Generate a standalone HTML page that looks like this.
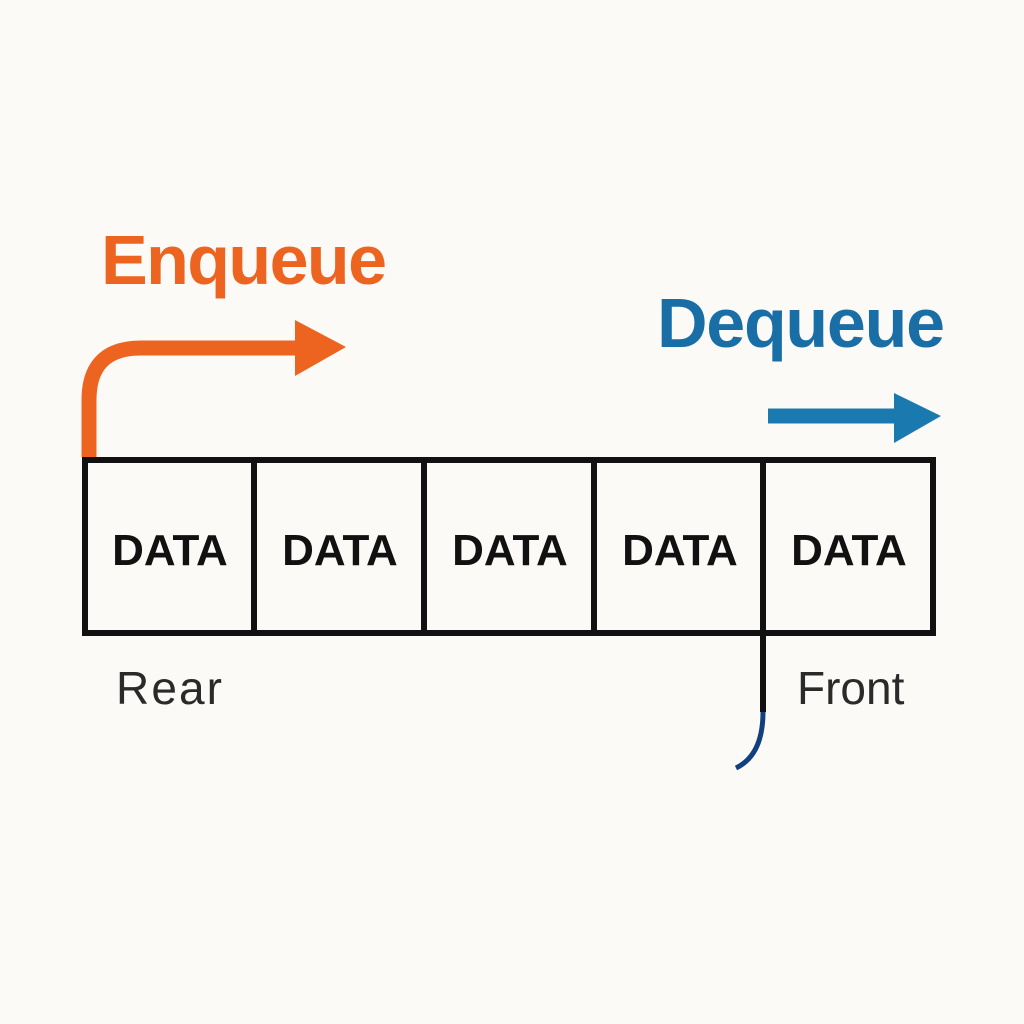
<!DOCTYPE html>
<html><head><style>
body{margin:0;background:#fbfaf7;}
svg{display:block}
</style></head><body>
<svg width="1024" height="1024" viewBox="0 0 1024 1024" xmlns="http://www.w3.org/2000/svg">
<rect width="1024" height="1024" fill="#fbfaf7"/>
<text x="101" y="284" font-family="Liberation Sans, sans-serif" font-size="70" font-weight="bold" fill="#ec6420" textLength="286">Enqueue</text>
<text x="657" y="347" font-family="Liberation Sans, sans-serif" font-size="70" font-weight="bold" fill="#1a6ea6" textLength="288">Dequeue</text>
<path d="M89 457 V400 Q89 348 141 348 H300" fill="none" stroke="#ec6420" stroke-width="15"/>
<polygon points="295,320 346,347 295,376" fill="#ec6420"/>
<line x1="768" y1="416" x2="900" y2="416" stroke="#1a7ab0" stroke-width="15"/>
<polygon points="894,393 941,416 894,443" fill="#1a7ab0"/>
<rect x="85" y="460" width="848" height="173" fill="none" stroke="#111" stroke-width="6"/>
<g stroke="#111" stroke-width="6">
<line x1="254" y1="460" x2="254" y2="633"/>
<line x1="424" y1="460" x2="424" y2="633"/>
<line x1="594" y1="460" x2="594" y2="633"/>
<line x1="763" y1="460" x2="763" y2="712"/>
</g>
<path d="M763 712 Q763 755 736 768" fill="none" stroke="#123f7e" stroke-width="5"/>
<g font-family="Liberation Sans, sans-serif" font-size="44" font-weight="bold" fill="#111" text-anchor="middle">
<text x="170" y="565">DATA</text>
<text x="340" y="565">DATA</text>
<text x="510" y="565">DATA</text>
<text x="680" y="565">DATA</text>
<text x="849" y="565">DATA</text>
</g>
<text x="116" y="704" font-family="Liberation Sans, sans-serif" font-size="46" fill="#2a2a2a" textLength="106">Rear</text>
<text x="797" y="704" font-family="Liberation Sans, sans-serif" font-size="46" fill="#2a2a2a">Front</text>
</svg>
</body></html>
